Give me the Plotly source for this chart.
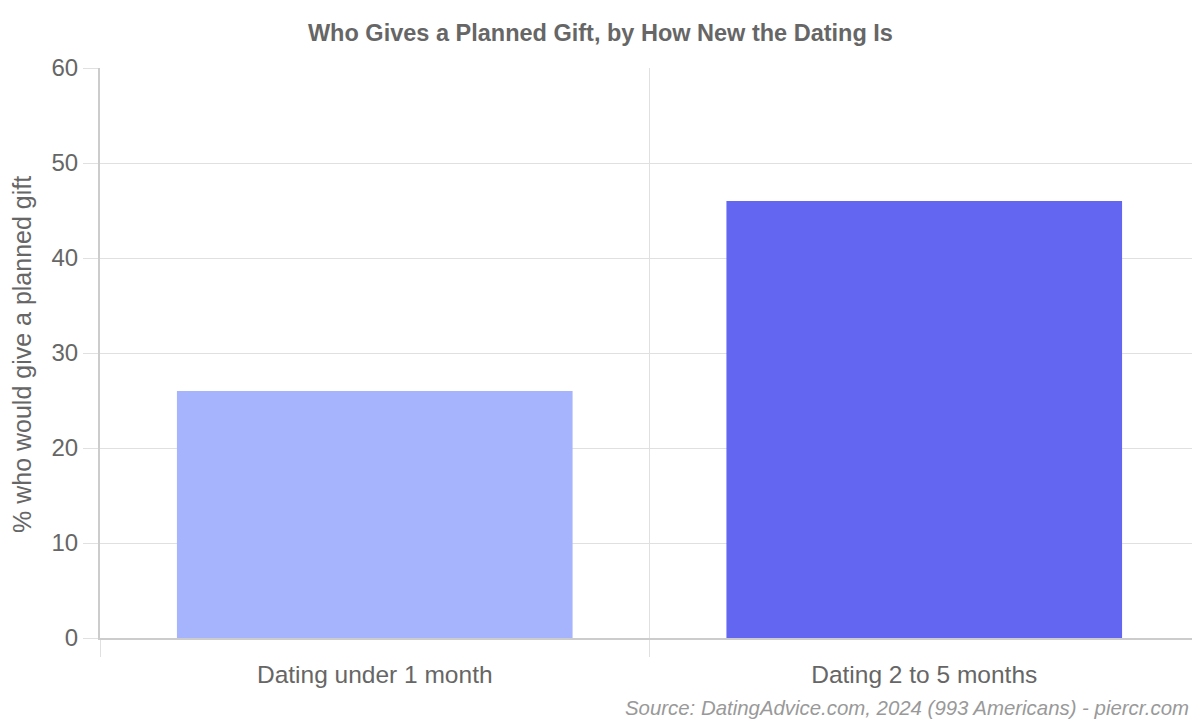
import plotly.graph_objects as go

categories = ["Dating under 1 month", "Dating 2 to 5 months"]
values = [26, 46]
bar_colors = ["#a5b4fc", "#6366f1"]
y_ticks = [0, 10, 20, 30, 40, 50, 60]

title_text = "Who Gives a Planned Gift, by How New the Dating Is"
y_title = "% who would give a planned gift"
source_text = "Source: DatingAdvice.com, 2024 (993 Americans) - piercr.com"

fig = go.Figure(go.Bar(x=categories, y=values, marker=dict(color=bar_colors, line=dict(width=0)),
                       hoverinfo="x+y"))

font_family = "Liberation Sans, Arial, sans-serif"
fig.update_layout(
    width=1192, height=712,
    margin=dict(l=92, r=1, t=60, b=82),
    paper_bgcolor="white", plot_bgcolor="white",
    bargap=0.28,
    showlegend=False,
    font=dict(family=font_family, color="#666666"),
    title=dict(text="<b>" + title_text + "</b>", x=0.497, xanchor="center", xref="container",
               y=1 - 25 / 712, yanchor="middle", yref="container",
               font=dict(size=23.5, color="#666666", family=font_family)),
    xaxis=dict(type="category", tickson="boundaries", ticks="outside", ticklen=17, tickcolor="#e0e0e0",
               tickwidth=1, showgrid=True, gridcolor="#e0e0e0", gridwidth=1,
               showline=True, linecolor="#cccccc", linewidth=2, ticklabelstandoff=14,
               tickfont=dict(size=24.5, color="#666666")),
    yaxis=dict(range=[0, 60], tickvals=y_ticks, ticks="outside", ticklen=15, tickcolor="#e0e0e0",
               showgrid=True, gridcolor="#e0e0e0", gridwidth=1, zeroline=False,
               showline=True, linecolor="#cccccc", linewidth=2,
               tickfont=dict(size=24, color="#666666")),
    annotations=[
        dict(text="<i>" + source_text + "</i>", xref="paper", yref="paper", x=1, y=-70 / 570,
             xshift=-8, xanchor="right", yanchor="middle", showarrow=False,
             font=dict(size=20.4, color="#999999", family=font_family)),
        dict(text=y_title, xref="paper", yref="paper", x=0, y=0.5, xshift=-78, yshift=-2, textangle=-90,
             xanchor="center", yanchor="middle", showarrow=False,
             font=dict(size=25, color="#666666", family=font_family)),
    ],
)

fig.write_html("out.html")
